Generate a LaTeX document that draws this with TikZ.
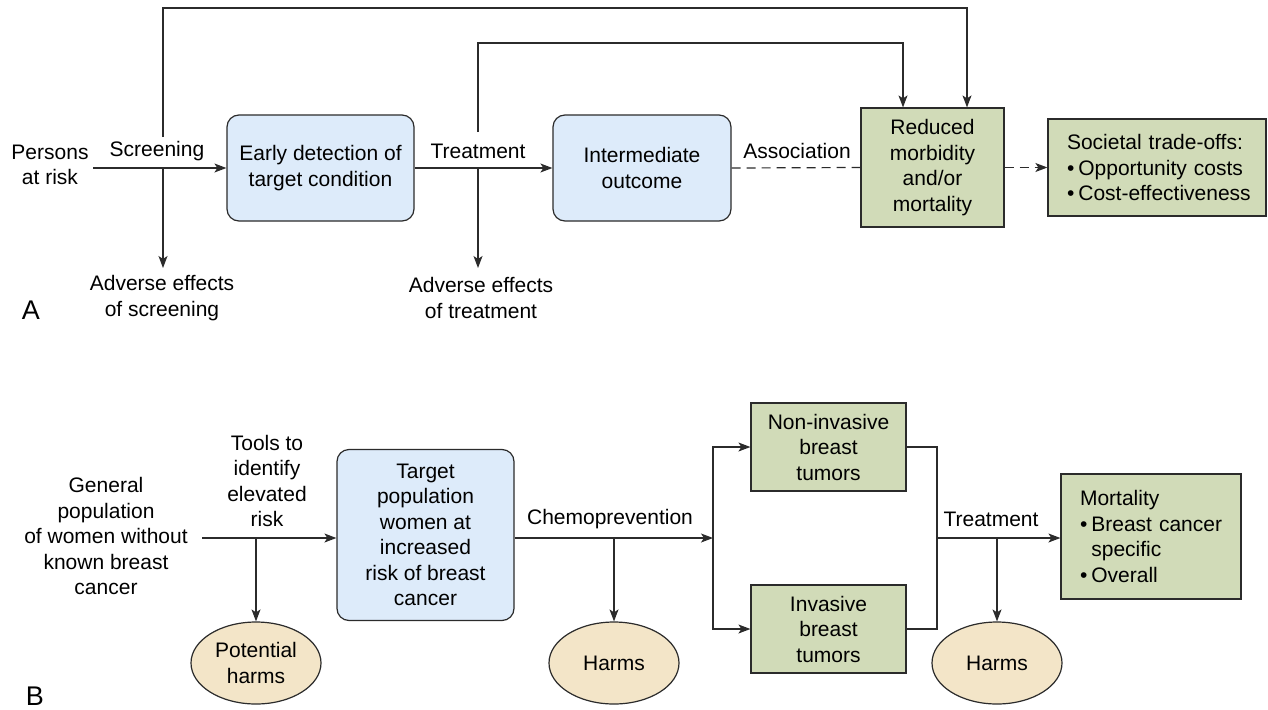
\documentclass[tikz,border=0pt]{standalone}
\usepackage{fontspec}
\setmainfont{Liberation Sans}
\usetikzlibrary{arrows.meta,shapes.geometric}
\definecolor{edge}{HTML}{2B2B2B}
\definecolor{bluefill}{HTML}{DDEBFA}
\definecolor{greenfill}{HTML}{D1DBB8}
\definecolor{tanfill}{HTML}{F3E5C8}
\newcommand{\bulletline}[1]{\mbox{\textbullet\hspace{4pt}#1}}

\begin{document}
\begin{tikzpicture}[x=1pt,y=-1pt,
  every node/.style={font=\fontsize{21}{25.5}\selectfont, text=black},
  bluebox/.style={draw=edge, line width=1.2pt, fill=bluefill, rounded corners=12pt, align=center, inner sep=0pt},
  greenbox/.style={draw=edge, line width=1.2pt, fill=greenfill, align=center, inner sep=0pt},
  harmoval/.style={ellipse, draw=edge, line width=1.2pt, fill=tanfill, align=center, inner sep=0pt,
                   minimum width=130pt, minimum height=82pt},
  txt/.style={align=center, inner sep=0pt},
  panel/.style={inner sep=0pt, font=\fontsize{27}{30}\selectfont},
  plain/.style={draw=edge, line width=1.2pt},
  flow/.style={plain, -{Stealth[length=12pt,width=9pt,inset=3pt]}},
  dashline/.style={plain, dash pattern=on 9pt off 6pt},
  dashflow/.style={flow, dash pattern=on 9pt off 6pt}
]
\useasboundingbox (0,0) rectangle (1268,709);

% ---------- Panel A ----------
\node[txt] (persons) at (50,165) {Persons\\at risk};
\node[txt] (screening) at (157,151) {Screening};
\node[txt] (treatA) at (478,151) {Treatment};
\node[txt] (assoc) at (797,151) {Association};
\node[txt] (adv1) at (162,298) {Adverse effects\\of screening};
\node[txt] (adv2) at (481,298) {Adverse effects\\of treatment};
\node[panel] (labA) at (31,310) {A};

\node[bluebox, minimum width=187pt, minimum height=106pt] (early) at (320.5,168)
  {Early detection of\\target condition};
\node[bluebox, minimum width=178pt, minimum height=106pt] (inter) at (642,168)
  {Intermediate\\outcome};
\node[greenbox, minimum width=143pt, minimum height=119pt] (reduced) at (932.5,167.5)
  {Reduced\\morbidity\\and/or\\mortality};
\node[greenbox, minimum width=218pt, minimum height=97pt, text width=180pt, align=left] (societal) at (1157,167.5)
  {\mbox{Societal trade-offs:}\\\bulletline{Opportunity costs}\\\bulletline{Cost-effectiveness}};

\coordinate (startA) at (93,168);
\coordinate (scrA) at (163,168);
\coordinate (scrTop) at (163,137);
\coordinate (trtA) at (478,168);
\coordinate (trtTop) at (478,132);

\draw[flow] (startA) -- (early.west);
\draw[flow] (early.east) -- (inter.west);
\draw[dashline] (inter.east) -- (reduced.west);
\draw[dashflow] (reduced.east) -- (societal.west);
\draw[flow] (scrA) -- (scrA |- 0,268);
\draw[flow] (trtA) -- (trtA |- 0,268);
\draw[flow] (scrTop) -- ++(0,-129) -| ([xshift=34.5pt]reduced.north);
\draw[flow] (trtTop) -- ++(0,-89) -| ([xshift=-29.5pt]reduced.north);

% ---------- Panel B ----------
\node[txt] (general) at (106,536)
  {General\\population\\of women without\\known breast\\cancer};
\node[txt] (tools) at (267,481) {Tools to\\identify\\elevated\\risk};
\node[txt] (chemo) at (610,519) {Chemoprevention};
\node[txt] (treatB) at (991,519) {Treatment};
\node[panel] (labB) at (35,696) {B};

\node[bluebox, minimum width=177pt, minimum height=171pt] (target) at (425.5,535)
  {Target\\population\\women at\\increased\\risk of breast\\cancer};
\node[greenbox, minimum width=155pt, minimum height=88pt] (noninv) at (828.5,447)
  {Non-invasive\\breast\\tumors};
\node[greenbox, minimum width=155pt, minimum height=88pt] (inv) at (828.5,629)
  {Invasive\\breast\\tumors};
\node[greenbox, minimum width=180pt, minimum height=125pt, text width=142pt, align=left] (mort) at (1151,536.5)
  {\mbox{Mortality}\\\bulletline{Breast cancer}\\\mbox{\phantom{\textbullet}\hspace{4pt}specific}\\\bulletline{Overall}};

\node[harmoval] (pharm) at (256,663) {Potential\\harms};
\node[harmoval] (harm1) at (614,663) {Harms};
\node[harmoval] (harm2) at (997,663) {Harms};

\coordinate (startB) at (202,538);
\coordinate (toolsB) at (256,538);
\coordinate (chemoB) at (614,538);
\coordinate (split) at (713,538);
\coordinate (merge) at (937,538);
\coordinate (trtB) at (997,538);

\draw[flow] (startB) -- (startB -| target.west);
\draw[flow] (toolsB) -- (pharm.north);
\draw[flow] (split -| target.east) -- (split);
\draw[flow] (chemoB) -- (harm1.north);
\draw[flow] (split) |- (noninv.west);
\draw[flow] (split) |- (inv.west);
\draw[plain] (noninv.east) -| (merge);
\draw[plain] (inv.east) -| (merge);
\draw[flow] (merge) -- (merge -| mort.west);
\draw[flow] (trtB) -- (harm2.north);
\end{tikzpicture}
\end{document}
